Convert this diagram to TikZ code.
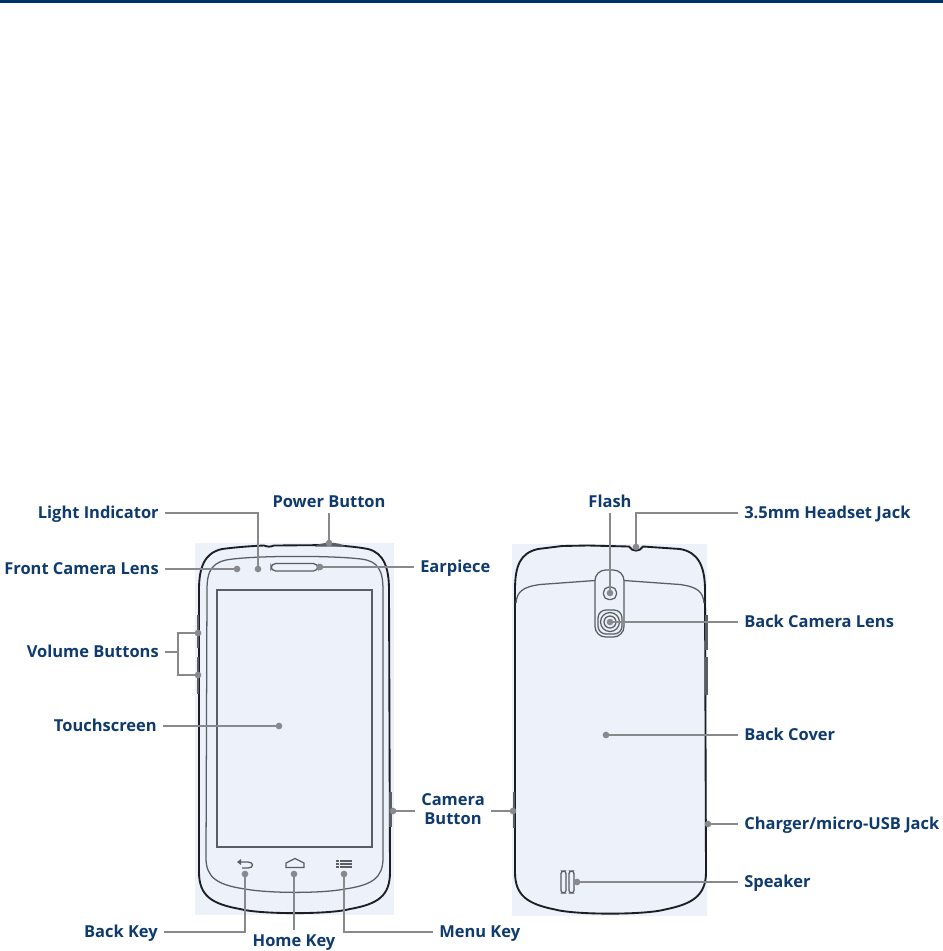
\documentclass[tikz,border=0pt]{standalone}
\usepackage{fontspec}
\setmainfont{Open Sans}
\usetikzlibrary{calc}
\definecolor{barNavy}{RGB}{0,51,102}
\definecolor{labelNavy}{RGB}{14,58,110}
\definecolor{leaderGrey}{RGB}{135,137,140}
\definecolor{panelBlue}{RGB}{236,241,250}
\definecolor{bodyInk}{RGB}{28,30,34}
\definecolor{trimGrey}{RGB}{90,94,100}
\tikzset{
  partlabel/.style={font=\bfseries\fontsize{12.35}{14.2}\selectfont,text=labelNavy,inner xsep=4.5pt,inner ysep=1pt,text height=11pt,text depth=3pt},
  leader/.style={leaderGrey,line width=1.7pt},
  pindot/.style={circle,fill=leaderGrey,inner sep=0pt,minimum size=5pt},
  bodyline/.style={bodyInk,line width=1.4pt},
  trimline/.style={trimGrey,line width=0.95pt},
  sidekey/.style={trimGrey,line width=1.7pt}
}
\newcommand{\PhonePanel}[4]{\fill[panelBlue] (#1,#2) rectangle (#3,#4);}
\begin{document}
\begin{tikzpicture}[x=0.75pt,y=-0.75pt]
\useasboundingbox (0,0) rectangle (943,951);
\fill[white] (0,0) rectangle (943,951);
\fill[barNavy] (0,0) rectangle (943,3);
\PhonePanel{195}{543}{394}{915}
\PhonePanel{512}{544}{707}{916}

\draw[bodyline] (199,590) .. controls (199,568) and (204,553) .. (222,549)
  .. controls (238,547) and (252,546) .. (264,545.5) .. controls (268,547) and (270,547) .. (274,545.5)
  -- (333,545) .. controls (345,546) and (358,547) .. (368,549)
  .. controls (384,553) and (389,568) .. (389,590) -- (390,872)
  .. controls (390,896) and (378,904) .. (350,909) .. controls (330,914.5) and (260,914.5) .. (240,909)
  .. controls (212,904) and (199,896) .. (199,872) -- cycle;
\draw[trimline] (207,590) .. controls (207,570) and (212,561) .. (233,559)
  .. controls (262,555.5) and (332,555.5) .. (361,559) .. controls (378,561) and (383,570) .. (383,590)
  -- (383,858) .. controls (383,878) and (372,885) .. (345,889) .. controls (322,893.5) and (270,893.5) .. (245,889)
  .. controls (218,885) and (206,878) .. (206,858) -- cycle;
\draw[trimGrey,line width=1.2pt] (217,590) rectangle (372,847);
\draw[trimline,rounded corners=3.5pt] (271,563.5) rectangle (318,571);
\draw[sidekey] (198,615) -- (198,648);
\draw[sidekey] (198,657) -- (198,694);
\draw[sidekey] (390.5,792) -- (390.5,827);
\fill[trimGrey] (315,546.5) .. controls (320,541.5) and (340,541.5) .. (345,546.5) -- cycle;

\draw[trimline] (240,862) -- (248,862) .. controls (254,862) and (254,868) .. (248,868) -- (242,868);
\fill[trimGrey] (237,862) -- (241,859) -- (241,865) -- cycle;
\draw[trimline] (286,867.5) -- (286,863) -- (295,858.5) -- (304,863) -- (304,867.5) -- cycle;
\foreach \y in {861,864,867}{
  \draw[trimGrey,line width=1.1pt] (340,\y) -- (352,\y);
  \fill[trimGrey] (336,\y-0.8) rectangle (338.8,\y+0.8);
}

\draw[bodyline] (515,590) .. controls (515,566) and (520,553) .. (538,549)
  -- (562,546) -- (588,545.5) -- (629,546.5) .. controls (632,552) and (640,552) .. (643,546.5)
  -- (680,549) .. controls (698,552) and (705,566) .. (705,590) -- (706,872)
  .. controls (706,896) and (692,904) .. (665,909.5) .. controls (645,915) and (575,915) .. (555,909.5)
  .. controls (528,904) and (515,896) .. (515,872) -- cycle;
\draw[trimline] (516,603) .. controls (517,592) and (522,587) .. (540,584.5) -- (595,580.5);
\draw[trimline] (624,580.5) -- (680,584.5) .. controls (698,587) and (703,592) .. (704,603);
\draw[trimline,rounded corners=8pt] (595,570) rectangle (624,637);
\draw[trimline,rounded corners=4pt] (603.5,587) rectangle (616.5,599.5);
\draw[trimline,rounded corners=6pt] (598,610) rectangle (622,634);
\draw[trimline] (610,622) circle[radius=9.5];
\draw[trimline] (610,622) circle[radius=6];
\draw[trimline,rounded corners=2pt] (561,871) rectangle (566,893);
\draw[trimline,rounded corners=2pt] (569,871) rectangle (574,893);
\draw[sidekey] (706.5,615) -- (706.5,650);
\draw[sidekey] (706.5,657) -- (706.5,695);
\draw[sidekey] (514,792) -- (514,828);

\node[pindot] (dotPower) at (329,543) {};
\node[pindot] (dotLens) at (237,569) {};
\node[pindot] (dotLight) at (258,569) {};
\node[pindot] (dotEar) at (320,567) {};
\node[pindot] (dotVolUp) at (198,633) {};
\node[pindot] (dotVolDown) at (198,675) {};
\node[pindot] (dotTouch) at (279,726) {};
\node[pindot] (dotCamFront) at (393,811) {};
\node[pindot] (dotCamBack) at (513,811) {};
\node[pindot] (dotBackKey) at (245,874) {};
\node[pindot] (dotHomeKey) at (294,874) {};
\node[pindot] (dotMenuKey) at (344,874) {};
\node[pindot] (dotFlash) at (610,593) {};
\node[pindot] (dotJack) at (636,547) {};
\node[pindot] (dotBackLens) at (610,622) {};
\node[pindot] (dotCover) at (606,735) {};
\node[pindot] (dotUsb) at (708,824) {};
\node[pindot] (dotSpeaker) at (577,882) {};

\node[partlabel,anchor=east] (lblLight) at (165,513) {Light Indicator};
\node[partlabel] (lblPower) at (329,502) {Power Button};
\node[partlabel,anchor=east] (lblLens) at (165,569) {Front Camera Lens};
\node[partlabel,anchor=west] (lblEar) at (414,567) {Earpiece};
\node[partlabel,anchor=east] (lblVol) at (165,652) {Volume Buttons};
\node[partlabel,anchor=east] (lblTouch) at (163,726) {Touchscreen};
\node[partlabel,align=center] (lblCam) at (453,819.5) {Camera\\Button};
\node[partlabel,anchor=east] (lblBackKey) at (164,932) {Back Key};
\node[partlabel] (lblHomeKey) at (294,941) {Home Key};
\node[partlabel,anchor=west] (lblMenuKey) at (433,932) {Menu Key};
\node[partlabel] (lblFlash) at (610,502) {Flash};
\node[partlabel,anchor=west] (lblJack) at (738,513) {3.5mm Headset Jack};
\node[partlabel,anchor=west] (lblBackLens) at (738,622) {Back Camera Lens};
\node[partlabel,anchor=west] (lblCover) at (738,735) {Back Cover};
\node[partlabel,anchor=west] (lblUsb) at (738,824) {Charger/micro-USB Jack};
\node[partlabel,anchor=west] (lblSpeaker) at (738,882) {Speaker};

\coordinate (volFork) at (178,652);
\draw[leader] (lblLight.east) -| (dotLight.center);
\draw[leader] (lblPower.south) -- (dotPower.center);
\draw[leader] (lblLens.east) -- (dotLens.center);
\draw[leader] (lblEar.west) -- (dotEar.center);
\draw[leader] (lblVol.east) -- (volFork);
\draw[leader] (dotVolUp.center) -| (volFork) |- (dotVolDown.center);
\draw[leader] (lblTouch.east) -- (dotTouch.center);
\draw[leader] (dotCamFront.center) -- (lblCam.west |- dotCamFront);
\draw[leader] (dotCamBack.center) -- (lblCam.east |- dotCamBack);
\draw[leader] (lblBackKey.east) -| (dotBackKey.center);
\draw[leader] (lblHomeKey.north) -- (dotHomeKey.center);
\draw[leader] (lblMenuKey.west) -| (dotMenuKey.center);
\draw[leader] (lblFlash.south) -- (dotFlash.center);
\draw[leader] (lblJack.west) -| (dotJack.center);
\draw[leader] (lblBackLens.west) -- (dotBackLens.center);
\draw[leader] (lblCover.west) -- (dotCover.center);
\draw[leader] (lblUsb.west) -- (dotUsb.center);
\draw[leader] (lblSpeaker.west) -- (dotSpeaker.center);
\end{tikzpicture}
\end{document}
